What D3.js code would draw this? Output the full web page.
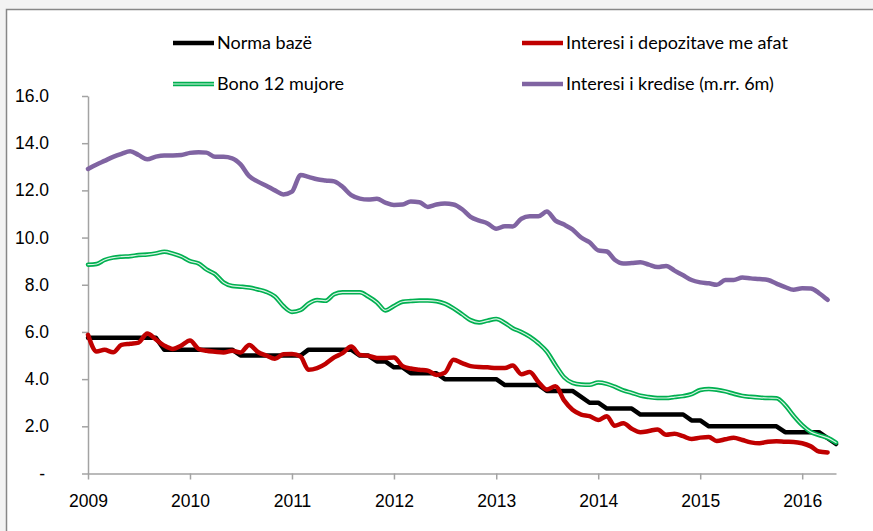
<!DOCTYPE html>
<html>
<head>
<meta charset="utf-8">
<script src="https://cdn.jsdelivr.net/npm/d3@7"></script>
<style>
	body { margin: 0; background: #f3f3f3; }
	svg { display: block; font-family: Lato, 'Noto Sans', sans-serif; }
</style>
</head>
<body>
<svg id="chart" width="873" height="531"></svg>
<script>
// monthly data, Jan 2009 onwards
let firstMonth = new Date(2009, 0, 1)
let lastMonth = new Date(2016, 4, 1)
let yearTicks = ['2009', '2010', '2011', '2012', '2013', '2014', '2015', '2016']
let yTicks = [0, 2, 4, 6, 8, 10, 12, 14, 16]

let seriesNames = ['Norma bazë', 'Interesi i depozitave me afat', 'Bono 12 mujore', 'Interesi i kredise (m.rr. 6m)']

let normaBaze = [
	5.75, 5.75, 5.75, 5.75, 5.75, 5.75, 5.75, 5.75, 5.75,
	5.25, 5.25, 5.25, 5.25, 5.25, 5.25, 5.25, 5.25, 5.25,
	5.0, 5.0, 5.0, 5.0, 5.0, 5.0, 5.0, 5.0,
	5.25, 5.25, 5.25, 5.25, 5.25, 5.25,
	5.0, 5.0, 4.75, 4.75, 4.5, 4.5,
	4.25, 4.25, 4.25, 4.25,
	4.0, 4.0, 4.0, 4.0, 4.0, 4.0, 4.0,
	3.75, 3.75, 3.75, 3.75, 3.75,
	3.5, 3.5, 3.5, 3.5,
	3.25, 3.0, 3.0,
	2.75, 2.75, 2.75, 2.75,
	2.5, 2.5, 2.5, 2.5, 2.5, 2.5,
	2.25, 2.25,
	2.0, 2.0, 2.0, 2.0, 2.0, 2.0, 2.0, 2.0, 2.0,
	1.75, 1.75, 1.75, 1.75, 1.75,
	1.5, 1.25
]

let depozitat = [
	5.88, 5.17, 5.24, 5.14, 5.45, 5.5, 5.55, 5.93, 5.68, 5.42, 5.28, 5.42,
	5.64, 5.28, 5.2, 5.16, 5.13, 5.2, 5.13, 5.45, 5.15, 5.0, 4.86, 5.05,
	5.07, 4.95, 4.4, 4.47, 4.65, 4.92, 5.1, 5.38, 5.03, 4.99, 4.9, 4.9,
	4.92, 4.55, 4.45, 4.4, 4.36, 4.18, 4.27, 4.82, 4.68, 4.55, 4.51, 4.5,
	4.47, 4.47, 4.58, 4.21, 4.3, 3.88, 3.56, 3.7, 3.1, 2.7, 2.5, 2.43,
	2.27, 2.43, 2.02, 2.13, 1.9, 1.75, 1.8, 1.87, 1.64, 1.68, 1.58, 1.46,
	1.52, 1.55, 1.38, 1.45, 1.52, 1.42, 1.32, 1.28, 1.35, 1.37, 1.35, 1.34,
	1.28, 1.15, 0.93, 0.89
]

let bono12 = [
	8.85, 8.88, 9.05, 9.15, 9.19, 9.21, 9.26, 9.28, 9.33, 9.4, 9.32, 9.2,
	9.0, 8.9, 8.65, 8.45, 8.1, 7.95, 7.92, 7.88, 7.8, 7.7, 7.5, 7.1,
	6.85, 6.93, 7.2, 7.35, 7.32, 7.6, 7.68, 7.68, 7.68, 7.5, 7.25, 6.91,
	7.1, 7.28, 7.31, 7.33, 7.33, 7.3, 7.2, 7.0, 6.75, 6.5, 6.4, 6.48,
	6.55, 6.38, 6.16, 6.0, 5.8, 5.52, 5.17, 4.6, 4.08, 3.84, 3.77, 3.76,
	3.86, 3.8, 3.68, 3.52, 3.42, 3.3, 3.24, 3.2, 3.2, 3.24, 3.28, 3.36,
	3.54, 3.58, 3.55, 3.48, 3.38, 3.29, 3.25, 3.22, 3.2, 3.19, 2.9, 2.45,
	2.05, 1.76, 1.63, 1.51, 1.31
]

let kredia = [
	12.91, 13.1, 13.25, 13.42, 13.55, 13.66, 13.5, 13.32, 13.43, 13.48, 13.48, 13.5,
	13.59, 13.62, 13.6, 13.42, 13.42, 13.36, 13.1, 12.6, 12.37, 12.2, 12.0, 11.83,
	11.95, 12.65, 12.57, 12.47, 12.42, 12.38, 12.15, 11.8, 11.65, 11.61, 11.64, 11.48,
	11.38, 11.4, 11.53, 11.5, 11.3, 11.4, 11.44, 11.4, 11.2, 10.88, 10.72, 10.6,
	10.37, 10.48, 10.47, 10.8, 10.9, 10.9, 11.1, 10.72, 10.55, 10.34, 10.0, 9.8,
	9.46, 9.41, 9.06, 8.9, 8.92, 8.95, 8.85, 8.75, 8.8, 8.6, 8.4, 8.2,
	8.1, 8.06, 8.0, 8.2, 8.2, 8.31, 8.27, 8.24, 8.2, 8.05, 7.9, 7.79,
	7.85, 7.84, 7.65, 7.36
]

let seriesColors = ['#000000', '#c00000', '#00b050', '#8064a2']

let series = [normaBaze, depozitat, bono12, kredia].map((values, i) => ({
	name: seriesNames[i],
	color: seriesColors[i],
	double: i === 2,
	smooth: i !== 0,
	points: values.map((v, j) => ({ date: d3.timeMonth.offset(firstMonth, j), value: v }))
}))

let svg = d3.select('#chart')
let width = 873, height = 531
let plot = { left: 88, right: 836, top: 96, bottom: 473.5 }

// chart frame
svg.append('rect')
	.attr('width', width)
	.attr('height', height)
	.attr('fill', '#f3f3f3')
svg.append('rect')
	.attr('x', 6.5)
	.attr('y', 9.5)
	.attr('width', width + 20)
	.attr('height', height + 20)
	.attr('fill', '#fff')
	.attr('stroke', '#878787')
	.attr('stroke-width', 1.5)

let x = d3.scaleTime()
	.domain([firstMonth, lastMonth])
	.range([plot.left, plot.right])
let y = d3.scaleLinear()
	.domain([0, 16])
	.range([plot.bottom, plot.top])

let fontSize = 17.5
let yAxis = svg.append('g')
	.attr('transform', `translate(${plot.left},0)`)
	.call(d3.axisLeft(y)
		.tickValues(yTicks)
		.tickSize(6)
		.tickSizeOuter(0)
		.tickPadding(33)
		.tickFormat(d => d === 0 ? '-' : d.toFixed(1)))
yAxis.selectAll('text').filter(d => d === 0).attr('dx', -4)

let xAxis = svg.append('g')
	.attr('transform', `translate(0,${plot.bottom})`)
	.call(d3.axisBottom(x)
		.tickValues(yearTicks.map(t => new Date(+t, 0, 1)))
		.tickSize(6)
		.tickSizeOuter(0)
		.tickPadding(15)
		.tickFormat(d3.timeFormat('%Y')))

svg.selectAll('.domain, .tick line')
	.attr('stroke', '#a3a3a3')
	.attr('stroke-width', 1.5)
svg.selectAll('.tick text')
	.attr('fill', '#000')
	.style('font-size', fontSize + 'px')
	.attr('font-family', null)

let line = d3.line()
	.x(d => x(d.date))
	.y(d => y(d.value))
let smoothLine = d3.line()
	.x(d => x(d.date))
	.y(d => y(d.value))
	.curve(d3.curveMonotoneX)

let lines = svg.append('g').attr('fill', 'none').attr('stroke-linejoin', 'round').attr('stroke-linecap', 'round')
series.forEach(s => {
	let path = (s.smooth ? smoothLine : line)(s.points)
	lines.append('path')
		.attr('d', path)
		.attr('stroke', s.color)
		.attr('stroke-width', 4.5)
	if (s.double) {
		lines.append('path')
			.attr('d', path)
			.attr('stroke', '#fff')
			.attr('stroke-opacity', 0.85)
			.attr('stroke-width', 1.2)
	}
})

// legend, two columns by two rows
let legend = svg.append('g').style('font-size', '18px')
series.forEach((s, i) => {
	let lx = i % 2 === 0 ? 173 : 522
	let ly = i < 2 ? 43 : 84
	let item = legend.append('g').attr('transform', `translate(${lx},${ly})`)
	item.append('line')
		.attr('x1', 0).attr('x2', 41)
		.attr('stroke', s.color)
		.attr('stroke-width', 4.5)
	if (s.double) {
		item.append('line')
			.attr('x1', 0).attr('x2', 41)
			.attr('stroke', '#fff')
			.attr('stroke-opacity', 0.85)
			.attr('stroke-width', 1.2)
	}
	item.append('text')
		.attr('x', 44)
		.attr('dy', '0.35em')
		.text(s.name)
})
</script>
</body>
</html>
